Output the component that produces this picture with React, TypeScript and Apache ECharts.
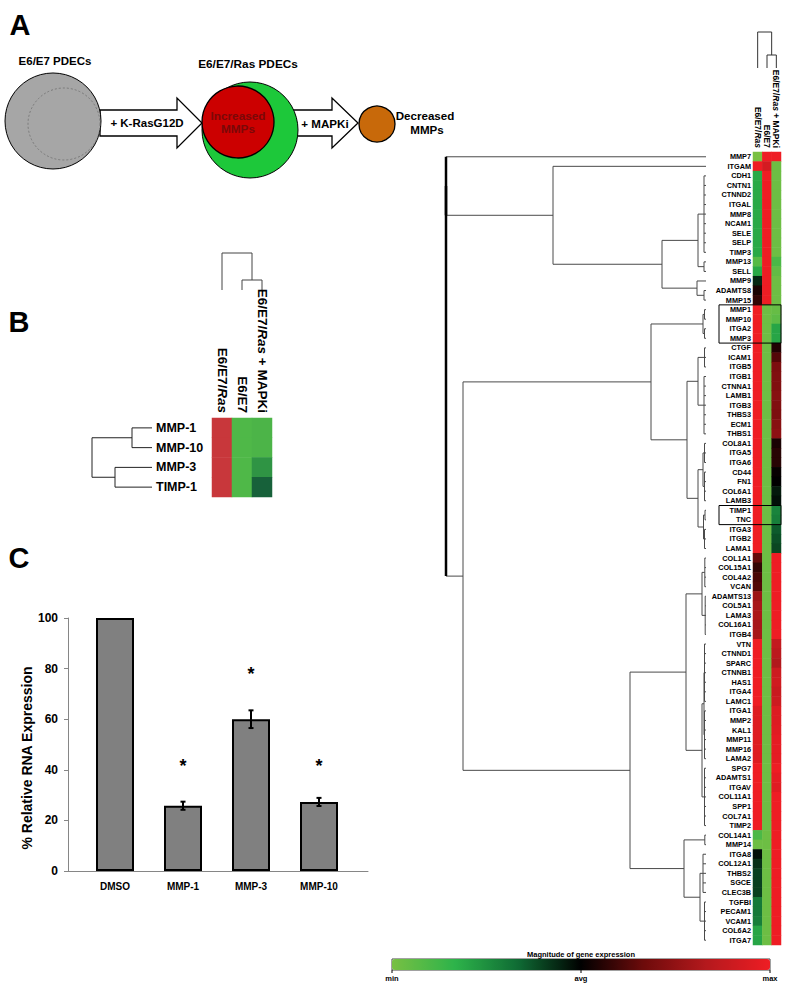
import React, { useEffect, useRef } from 'react';
import * as echarts from 'echarts';

// ---------- Right: gene expression heatmap ----------
const genes = ['MMP7','ITGAM','CDH1','CNTN1','CTNND2','ITGAL','MMP8','NCAM1','SELE','SELP','TIMP3','MMP13','SELL','MMP9','ADAMTS8','MMP15','MMP1','MMP10','ITGA2','MMP3','CTGF','ICAM1','ITGB5','ITGB1','CTNNA1','LAMB1','ITGB3','THBS3','ECM1','THBS1','COL8A1','ITGA5','ITGA6','CD44','FN1','COL6A1','LAMB3','TIMP1','TNC','ITGA3','ITGB2','LAMA1','COL1A1','COL15A1','COL4A2','VCAN','ADAMTS13','COL5A1','LAMA3','COL16A1','ITGB4','VTN','CTNND1','SPARC','CTNNB1','HAS1','ITGA4','LAMC1','ITGA1','MMP2','KAL1','MMP11','MMP16','LAMA2','SPG7','ADAMTS1','ITGAV','COL11A1','SPP1','COL7A1','TIMP2','COL14A1','MMP14','ITGA8','COL12A1','THBS2','SGCE','CLEC3B','TGFBI','PECAM1','VCAM1','COL6A2','ITGA7'];
const conditions = ['E6/E7/Ras', 'E6/E7', 'E6/E7/Ras + MAPKi'];
// relative expression: -1 = min (green), 0 = avg (black), 1 = max (red)
const exprRas = [-1, 1, -0.62, -0.62, -0.62, -0.62, -0.62, -0.62, -0.62, -0.62, -0.62, -0.85, -0.62, -0.12, 0.08, 0.15,
  1, 1, 1, 1,
  1, 1, 1, 1, 1, 1, 1, 1, 1, 1, 1, 1, 1, 1, 1, 1, 1, 1, 1, 1, 1, 1,
  0.3, 0.15, 0.22, 0.25, 0.55, 0.6, 0.62, 0.6, 0.6,
  1, 1, 1, 1, 1, 1, 1, 0.9, 0.9, 0.9, 0.9, 0.9, 0.9, 1, 1, 1, 1, 1, 1, 1,
  -0.8, -0.95, -0.05, -0.15, -0.2, -0.2, -0.2, -0.4, -0.4, -0.42, -0.6, -0.6];
const exprE6E7 = [1, 0.85, 1, 1, 1, 1, 1, 1, 1, 1, 1, 1, 1, 1, 1, 1,
  -0.95, -0.95, -0.95, -0.95,
  -0.95, -0.95, -0.95, -0.95, -0.95, -0.95, -0.95, -0.95, -0.95, -0.95, -0.95, -0.95, -0.95, -0.95, -0.95, -0.95, -0.95, -0.95, -0.95, -0.95, -0.95, -0.95,
  -0.95, -0.95, -0.95, -0.95, -0.95, -0.95, -0.95, -0.95, -0.95,
  -0.95, -0.95, -0.95, -0.95, -0.95, -0.95, -0.95, -0.95, -0.95, -0.95, -0.95, -0.95, -0.95, -0.95, -0.95, -0.95, -0.95, -0.95, -0.95, -0.95,
  -0.95, -0.95, -0.95, -0.95, -0.95, -0.95, -0.95, -0.95, -0.95, -0.95, -0.95, -0.95];
const exprMAPKi = [1, -0.95, -0.95, -0.95, -0.95, -0.95, -0.95, -0.95, -0.95, -0.95, -0.95, -0.8, -0.9, -0.95, -0.95, -0.95,
  -0.92, -0.88, -0.6, -0.6,
  0.1, 0.25, 0.4, 0.42, 0.42, 0.45, 0.42, 0.4, 0.45, 0.48, 0.08, 0.12, 0.12, 0.02, 0, -0.08, -0.05, -0.45, -0.42, -0.28, -0.25, -0.22,
  1, 1, 1, 1, 1, 1, 1, 1, 1,
  0.75, 0.7, 0.65, 0.8, 0.82, 0.78, 0.8, 0.9, 0.9, 0.92, 0.95, 0.95, 0.95, 1, 0.95, 0.92, 1, 1, 1, 1,
  1, 1, 1, 1, 1, 1, 1, 1, 1, 1, 1, 1];
const boxedRows = [[16, 19], [37, 38]];
const scaleColors = ['#78c043', '#2db34a', '#0f6b34', '#000000', '#6e0b0b', '#b5191d', '#ee1d24'];
const scaleLabels = ['min', 'avg', 'max'];

// ---------- Panel B ----------
const bGenes = ['MMP-1', 'MMP-10', 'MMP-3', 'TIMP-1'];
const bRas = [1, 1, 1, 1];
const bE6E7 = [-1, -1, -1, -1];
const bMAPKi = [-0.95, -0.95, -0.5, 0];
const bColors = ['#4fb848', '#2f9444', '#17613a', '#7a4a3a', '#c8373b'];

// ---------- Panel C ----------
const cCats = ['DMSO', 'MMP-1', 'MMP-3', 'MMP-10'];
const cVals = [100, 25.8, 60, 27.3];
const cErr = [0, 1.6, 3.5, 1.6];
const cStar = [null, 43, 79.5, 43];

// ---------- Dendrograms (merge heights; leaves are row/column indices) ----------
type Tree = number | { h: number; c: Tree[] };
const N = (h: number, ...c: Tree[]): Tree => ({ h, c });
const R = (a: number, b: number) => Array.from({ length: b - a + 1 }, (_, i) => a + i);

const rowTreeMain = N(260,
  N(260, 0,
    N(153, 1,
      N(44,
        N(8, N(2, ...R(2, 10)), N(2, 11, 12)),
        N(9, 13, N(2, 14, 15))))),
  N(243,
    N(55,
      N(3, N(1.5, 16, 17), N(1.5, 18, 19)),
      N(19,
        N(8, N(1.5, 20, 21, 22), N(2, ...R(23, 29))),
        N(8, N(3, N(1.5, 30, 31, 32), N(1.5, 33, 34, 35, 36)), N(2.5, N(1, 37, 38), N(1.5, 39, 40, 41))))),
    N(76,
      N(20,
        N(4, N(1.2, 42, 43, 44, 45), N(0.8, ...R(46, 50))),
        N(4, N(2, N(1.5, ...R(51, 57)), N(1.5, ...R(58, 63))), N(1.5, ...R(64, 70)))),
      N(22, N(1.2, 71, 72), N(6, N(3, ...R(73, 77)), N(1.5, ...R(78, 82)))))));
const colTreeMain = N(36, 0, N(13, 1, 2));
const rowTreeB = N(60, N(20, 0, 1), N(37, 2, 3));
const colTreeB = N(37, 0, N(10, 1, 2));

function dendroSegments(t: Tree, thickAt = Infinity) {
  const lines: number[][] = [];
  const walk = (n: Tree): { p: number; h: number } => {
    if (typeof n === 'number') return { p: n, h: 0 };
    const kids = n.c.map(walk);
    kids.forEach((k) => lines.push([k.h, k.p, n.h, k.p, 0]));
    const ps = kids.map((k) => k.p);
    const lo = Math.min(...ps);
    const hi = Math.max(...ps);
    lines.push([n.h, lo, n.h, hi, n.h >= thickAt ? 1 : 0]);
    return { p: (lo + hi) / 2, h: n.h };
  };
  walk(t);
  return lines;
}

const F = '"Liberation Sans", Arial, Helvetica, sans-serif';

function dendroSeries(tree: Tree, axis: number, orient: 'row' | 'col', color: string, thickAt = Infinity) {
  const segs = dendroSegments(tree, thickAt);
  return {
    type: 'custom',
    xAxisIndex: axis,
    yAxisIndex: axis,
    silent: true,
    data: [[0, 0]],
    renderItem: (_p: any, api: any) => ({
      type: 'group',
      children: segs.map((s) => {
        const a = orient === 'row' ? api.coord([s[0], s[1]]) : api.coord([s[1], s[0]]);
        const b = orient === 'row' ? api.coord([s[2], s[3]]) : api.coord([s[3], s[2]]);
        return {
          type: 'line',
          shape: { x1: a[0], y1: a[1], x2: b[0], y2: b[1] },
          style: { stroke: s[4] ? '#000' : color, lineWidth: s[4] ? 2.5 : 1 },
        };
      }),
    }),
  };
}

// vertical column headers (reading top-to-bottom, ending just above the heat map)
function colLabelSeries(axis: number, size: number, gap: number) {
  return {
    type: 'custom',
    xAxisIndex: axis,
    yAxisIndex: axis,
    silent: true,
    z: 5,
    data: conditions.map((_c, i) => [i, 0]),
    renderItem: (_p: any, api: any) => {
      const i = api.value(0);
      const pt = api.coord([i, 0]);
      const band = api.size([1, 1]);
      return {
        type: 'text',
        x: pt[0],
        y: pt[1] - band[1] / 2 - gap,
        rotation: -Math.PI / 2,
        style: {
          text: conditions[i].replace('Ras', '{i|Ras}'),
          fontFamily: F, fontWeight: 'bold', fontSize: size, fill: '#000',
          align: 'right', verticalAlign: 'middle',
          rich: { i: { fontStyle: 'italic', fontWeight: 'bold', fontSize: size, fontFamily: F, fill: '#000', color: '#000' } },
        },
      };
    },
  };
}

export default function App() {
  const ref = useRef<HTMLDivElement>(null);
  useEffect(() => {
    if (!ref.current) return;
    const chart = echarts.init(ref.current, undefined, { renderer: 'svg' });
    const mainData: number[][] = [];
    [exprRas, exprE6E7, exprMAPKi].forEach((col, c) => col.forEach((v, r) => mainData.push([c, r, v])));
    const bData: number[][] = [];
    [bRas, bE6E7, bMAPKi].forEach((col, c) => col.forEach((v, r) => bData.push([c, r, v])));

    const hidden = { show: false };
    const txt = (x: number, y: number, text: string, size: number, extra: any = {}) => ({
      type: 'text', x, y, silent: true,
      style: { text, fontFamily: F, fontWeight: 'bold', fontSize: size, fill: '#000', align: 'center', verticalAlign: 'middle', ...extra },
    });

    const option: any = {
      animation: false,
      backgroundColor: '#fff',
      textStyle: { fontFamily: F },
      grid: [
        { left: 753, top: 152, width: 28, height: 793 }, // 0 main heatmap
        { left: 446, top: 152, width: 260, height: 793 }, // 1 main row dendro
        { left: 753, top: 32, width: 28, height: 36 }, // 2 main col dendro
        { left: 212, top: 418, width: 60, height: 79 }, // 3 B heatmap
        { left: 92, top: 418, width: 60, height: 79 }, // 4 B row dendro
        { left: 212, top: 253, width: 60, height: 37 }, // 5 B col dendro
        { left: 68, top: 618, width: 300, height: 253 }, // 6 C axes
        { left: 81, top: 618, width: 272, height: 253 }, // 7 C bars
      ],
      xAxis: [
        { gridIndex: 0, type: 'category', data: conditions, position: 'top', axisLine: hidden, axisTick: hidden, splitLine: hidden, axisLabel: hidden },
        { gridIndex: 1, type: 'value', min: 0, max: 260, inverse: true, show: false },
        { gridIndex: 2, type: 'value', min: -0.5, max: 2.5, show: false },
        { gridIndex: 3, type: 'category', data: conditions, position: 'top', axisLine: hidden, axisTick: hidden, splitLine: hidden, axisLabel: hidden },
        { gridIndex: 4, type: 'value', min: 0, max: 60, inverse: true, show: false },
        { gridIndex: 5, type: 'value', min: -0.5, max: 2.5, show: false },
        {
          gridIndex: 6, type: 'value', min: 0, max: 1,
          axisLine: { show: true, lineStyle: { color: '#868686', width: 1 } },
          axisTick: hidden, axisLabel: hidden, splitLine: hidden,
        },
        {
          gridIndex: 7, type: 'category', data: cCats,
          axisLine: hidden, axisTick: hidden, splitLine: hidden,
          axisLabel: { fontSize: 10, fontWeight: 'bold', color: '#000', margin: 10, fontFamily: F },
        },
      ],
      yAxis: [
        {
          gridIndex: 0, type: 'category', data: genes, inverse: true,
          axisLine: hidden, axisTick: hidden, splitLine: hidden,
          axisLabel: { interval: 0, margin: 2, fontSize: 7.3, fontWeight: 'bold', color: '#000', fontFamily: F },
        },
        { gridIndex: 1, type: 'value', min: -0.5, max: 82.5, inverse: true, show: false },
        { gridIndex: 2, type: 'value', min: 0, max: 36, show: false },
        {
          gridIndex: 3, type: 'category', data: bGenes, inverse: true,
          axisLine: hidden, axisTick: hidden, splitLine: hidden,
          axisLabel: { interval: 0, margin: 56, align: 'left', fontSize: 12.5, fontWeight: 'bold', color: '#000', fontFamily: F },
        },
        { gridIndex: 4, type: 'value', min: -0.5, max: 3.5, inverse: true, show: false },
        { gridIndex: 5, type: 'value', min: 0, max: 37, show: false },
        {
          gridIndex: 6, type: 'value', min: 0, max: 100, interval: 20,
          axisLine: { show: true, lineStyle: { color: '#868686', width: 1 } },
          axisTick: { show: true, length: 4, lineStyle: { color: '#868686' } },
          splitLine: hidden,
          axisLabel: { fontSize: 12, fontWeight: 'bold', color: '#000', margin: 10, fontFamily: F },
        },
        { gridIndex: 7, type: 'value', min: 0, max: 100, show: false },
      ],
      visualMap: [
        {
          type: 'continuous', min: -1, max: 1, seriesIndex: 0, dimension: 2,
          orient: 'horizontal', left: 392, top: 959, itemWidth: 11, itemHeight: 378,
          calculable: false, hoverLink: false, padding: 0, text: null,
          inRange: { color: scaleColors },
        },
        {
          type: 'continuous', min: -1, max: 1, seriesIndex: 1, dimension: 2, show: false,
          inRange: { color: bColors },
        },
      ],
      series: [
        { type: 'heatmap', xAxisIndex: 0, yAxisIndex: 0, data: mainData, emphasis: { disabled: true }, silent: true },
        { type: 'heatmap', xAxisIndex: 3, yAxisIndex: 3, data: bData, emphasis: { disabled: true }, silent: true },
        dendroSeries(rowTreeMain, 1, 'row', '#4a4a4a', 250),
        dendroSeries(colTreeMain, 2, 'col', '#333'),
        dendroSeries(rowTreeB, 4, 'row', '#222'),
        dendroSeries(colTreeB, 5, 'col', '#444'),
        {
          type: 'custom', xAxisIndex: 0, yAxisIndex: 0, silent: true, z: 5,
          data: boxedRows.map((b) => [0, b[0], b[1]]),
          renderItem: (_p: any, api: any) => {
            const s = api.value(1);
            const e = api.value(2);
            const band = api.size([1, 1]);
            const top = api.coord([0, s]);
            const bot = api.coord([2, e]);
            const x0 = top[0] - band[0] / 2 - 34;
            const y0 = top[1] - band[1] / 2;
            return {
              type: 'rect',
              shape: { x: x0, y: y0, width: bot[0] + band[0] / 2 - x0, height: bot[1] + band[1] / 2 - y0 },
              style: { fill: 'none', stroke: '#000', lineWidth: 1 },
            };
          },
        },
        colLabelSeries(0, 8.5, 4),
        colLabelSeries(3, 13.5, 5),
        {
          type: 'bar', xAxisIndex: 7, yAxisIndex: 7, data: cVals, barWidth: 38, silent: true, z: 2,
          itemStyle: { color: '#808080', borderColor: '#000', borderWidth: 2 },
        },
        {
          type: 'custom', xAxisIndex: 7, yAxisIndex: 7, silent: true, z: 10,
          data: cVals.map((v, i) => [i, v, cErr[i]]).filter((d) => d[2] > 0),
          renderItem: (_p: any, api: any) => {
            const x = api.value(0); const v = api.value(1); const e = api.value(2);
            const hi = api.coord([x, v + e]); const lo = api.coord([x, v - e]);
            const w = 2.5;
            const st = { stroke: '#000', lineWidth: 2 };
            return {
              type: 'group', children: [
                { type: 'line', shape: { x1: hi[0], y1: hi[1], x2: lo[0], y2: lo[1] }, style: st },
                { type: 'line', shape: { x1: hi[0] - w, y1: hi[1], x2: hi[0] + w, y2: hi[1] }, style: st },
                { type: 'line', shape: { x1: lo[0] - w, y1: lo[1], x2: lo[0] + w, y2: lo[1] }, style: st },
              ],
            };
          },
        },
        {
          type: 'custom', xAxisIndex: 7, yAxisIndex: 7, silent: true, z: 10,
          data: cStar.map((v, i) => [i, v]).filter((d) => d[1] != null),
          renderItem: (_p: any, api: any) => {
            const p = api.coord([api.value(0), api.value(1)]);
            return {
              type: 'text', x: p[0], y: p[1] + 4,
              style: { text: '*', fontFamily: F, fontWeight: 'bold', fontSize: 18, fill: '#000', align: 'center', verticalAlign: 'middle' },
            };
          },
        },
      ],
      graphic: [
        // Panel A schematic
        { type: 'polygon', silent: true, shape: { points: [[100, 110], [177, 110], [177, 98], [202, 123], [177, 148], [177, 136], [100, 136]] }, style: { fill: '#fff', stroke: '#000', lineWidth: 1.3 } },
        { type: 'polygon', silent: true, shape: { points: [[292, 110], [332, 110], [332, 98], [358, 123], [332, 148], [332, 136], [292, 136]] }, style: { fill: '#fff', stroke: '#000', lineWidth: 1.3 } },
        { type: 'circle', silent: true, shape: { cx: 53, cy: 121, r: 48 }, style: { fill: '#a6a6a6', stroke: '#000', lineWidth: 1 } },
        { type: 'circle', silent: true, shape: { cx: 64, cy: 124, r: 36 }, style: { fill: 'none', stroke: '#7a7a7a', lineWidth: 1, lineDash: [2, 2] } },
        { type: 'circle', silent: true, shape: { cx: 250, cy: 130, r: 48 }, style: { fill: '#1dc83a', stroke: '#000', lineWidth: 1 } },
        { type: 'circle', silent: true, shape: { cx: 238, cy: 122, r: 36 }, style: { fill: '#cc0000', stroke: '#000', lineWidth: 1.3 } },
        { type: 'circle', silent: true, shape: { cx: 377, cy: 124, r: 18 }, style: { fill: '#c8690a', stroke: '#000', lineWidth: 1.3 } },
        txt(55, 61, 'E6/E7 PDECs', 11.5),
        txt(248, 64, 'E6/E7/Ras PDECs', 11.8),
        txt(147, 123, '+ K-RasG12D', 11.5),
        txt(238, 116, 'Increased', 11.8, { fill: '#7a0808' }),
        txt(238, 129, 'MMPs', 11.8, { fill: '#7a0808' }),
        txt(325, 123, '+ MAPKi', 11.6),
        txt(425, 115, 'Decreased', 11.6),
        txt(427, 129, 'MMPs', 11.6),
        // Panel letters
        txt(20, 25, 'A', 29),
        txt(19, 322, 'B', 29),
        txt(19, 558, 'C', 29),
        // Panel C axis title
        { ...txt(27, 758, '% Relative RNA Expression', 14), rotation: Math.PI / 2 },
        // colour scale decorations
        { type: 'rect', silent: true, shape: { x: 392, y: 959, width: 378, height: 11 }, style: { fill: 'none', stroke: '#444', lineWidth: 1 } },
        txt(581, 954, 'Magnitude of gene expression', 7.5),
        ...scaleLabels.map((l, i) => txt(392 + i * 189, 978, l, 7.5)),
        ...scaleLabels.map((_l, i) => ({ type: 'line', silent: true, shape: { x1: 392 + i * 189, y1: 970, x2: 392 + i * 189, y2: 973 }, style: { stroke: '#000', lineWidth: 1 } })),
      ],
    };
    chart.setOption(option);
    return () => chart.dispose();
  }, []);
  return <div ref={ref} style={{ position: 'absolute', left: 0, top: 0, width: 791, height: 992 }} />;
}
